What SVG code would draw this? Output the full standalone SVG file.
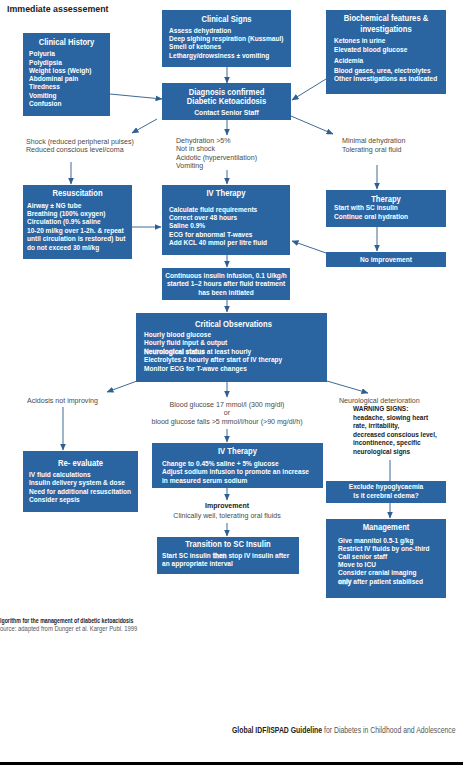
<svg xmlns="http://www.w3.org/2000/svg" width="463" height="765" viewBox="0 0 463 765">
<style>
  .box { fill: #2a65a2; }
  text { font-family: "Liberation Sans", Arial, sans-serif; }
  .t { fill: #ffffff; font-size: 8.8px; font-weight: bold; text-anchor: middle; }
  .b { fill: #ffffff; font-size: 7.6px; font-weight: bold; }
  .bc { fill: #ffffff; font-size: 7.6px; font-weight: bold; text-anchor: middle; }
  .g { fill: #4a4a4a; font-size: 7.8px; }
  .gc { fill: #4a4a4a; font-size: 7.8px; text-anchor: middle; }
  .k { fill: #222222; font-size: 7.6px; font-weight: bold; }
  .hv { stroke: #ffffff; stroke-width: 0.35px; }
  .conn line { stroke: #3d6a98; stroke-width: 1; fill: none; }
  .arr { marker-end: url(#ah); }
</style>
<defs>
  <marker id="ah" markerUnits="userSpaceOnUse" markerWidth="7" markerHeight="6" refX="6.5" refY="3" orient="auto">
    <path d="M0,0 L7,3 L0,6 z" fill="#2f5f92"/>
  </marker>
</defs>
<rect x="0" y="0" width="463" height="765" fill="#ffffff"/>
<g transform="translate(7,0) scale(0.93,1)">
  <text x="0" y="12" style="font-size:9.5px;font-weight:bold;fill:#222;">Immediate assessement</text>
</g>

<g id="clinical-history">
  <rect class="box" x="23" y="33" width="87" height="83"/>
  <g transform="translate(66.5,0) scale(0.87,1)"><text class="t" x="0" y="45">Clinical History</text></g>
  <g transform="translate(29,0) scale(0.865,1)">
    <text class="b" x="0" y="56.5">Polyuria</text>
    <text class="b" x="0" y="64.7">Polydipsia</text>
    <text class="b" x="0" y="73">Weight loss (Weigh)</text>
    <text class="b" x="0" y="81.2">Abdominal pain</text>
    <text class="b" x="0" y="89.4">Tiredness</text>
    <text class="b" x="0" y="97.7">Vomiting</text>
    <text class="b" x="0" y="106">Confusion</text>
  </g>
</g>

<g id="clinical-signs">
  <rect class="box" x="162" y="10" width="129" height="57"/>
  <g transform="translate(226.5,0) scale(0.87,1)"><text class="t" x="0" y="22">Clinical Signs</text></g>
  <g transform="translate(169,0) scale(0.865,1)">
    <text class="b" x="0" y="33">Assess dehydration</text>
    <text class="b" x="0" y="41.3">Deep sighing respiration (Kussmaul)</text>
    <text class="b" x="0" y="49.5">Smell of ketones</text>
    <text class="b" x="0" y="58">Lethargy/drowsiness ± vomiting</text>
  </g>
</g>

<g id="biochemical">
  <rect class="box" x="326" y="10" width="120" height="84"/>
  <g transform="translate(386,0) scale(0.87,1)">
    <text class="t" x="0" y="21.5">Biochemical features &amp;</text>
    <text class="t" x="0" y="32">investigations</text>
  </g>
  <g transform="translate(334,0) scale(0.865,1)">
    <text class="b" x="0" y="43.5">Ketones in urine</text>
    <text class="b" x="0" y="52">Elevated blood glucose</text>
    <text class="b" x="0" y="63">Acidemia</text>
    <text class="b" x="0" y="73">Blood gases, urea, electrolytes</text>
    <text class="b" x="0" y="81.5">Other investigations as indicated</text>
  </g>
</g>

<g id="diagnosis">
  <rect class="box" x="162" y="83" width="129" height="37"/>
  <g transform="translate(226.5,0) scale(0.87,1)">
    <text class="t" x="0" y="95">Diagnosis confirmed</text>
    <text class="t" x="0" y="104">Diabetic Ketoacidosis</text>
  </g>
  <g transform="translate(226.5,0) scale(0.84,1)">
    <text class="bc" x="0" y="115" style="font-size:8px">Contact Senior Staff</text>
  </g>
</g>

<g id="shock-label" transform="translate(26,0) scale(0.91,1)">
  <text class="g" x="0" y="144">Shock (reduced peripheral pulses)</text>
  <text class="g" x="0" y="152.5">Reduced conscious level/coma</text>
</g>

<g id="dehydration-label" transform="translate(176,0) scale(0.91,1)">
  <text class="g" x="0" y="143">Dehydration &gt;5%</text>
  <text class="g" x="0" y="151.5">Not in shock</text>
  <text class="g" x="0" y="160">Acidotic (hyperventilation)</text>
  <text class="g" x="0" y="168.5">Vomiting</text>
</g>

<g id="minimal-label" transform="translate(342,0) scale(0.91,1)">
  <text class="g" x="0" y="143">Minimal dehydration</text>
  <text class="g" x="0" y="152">Tolerating oral fluid</text>
</g>

<g id="resuscitation">
  <rect class="box" x="23" y="185" width="109" height="74"/>
  <g transform="translate(77.5,0) scale(0.87,1)"><text class="t" x="0" y="196">Resuscitation</text></g>
  <g transform="translate(27,0) scale(0.865,1)">
    <text class="b" x="0" y="208">Airway ± NG tube</text>
    <text class="b" x="0" y="216.5">Breathing (100% oxygen)</text>
    <text class="b" x="0" y="224.5">Circulation (0.9% saline</text>
    <text class="b" x="0" y="233">10-20 ml/kg over 1-2h. &amp; repeat</text>
    <text class="b" x="0" y="241.5">until circulation is restored) but</text>
    <text class="b" x="0" y="250">do not exceed 30 ml/kg</text>
  </g>
</g>

<g id="iv-therapy">
  <rect class="box" x="162" y="185" width="128" height="70"/>
  <g transform="translate(226,0) scale(0.87,1)"><text class="t" x="0" y="196">IV Therapy</text></g>
  <g transform="translate(169,0) scale(0.865,1)">
    <text class="b" x="0" y="212">Calculate fluid requirements</text>
    <text class="b" x="0" y="220.5">Correct over 48 hours</text>
    <text class="b" x="0" y="228.5">Saline 0.9%</text>
    <text class="b" x="0" y="237">ECG for abnormal T-waves</text>
    <text class="b" x="0" y="245.5">Add KCL 40 mmol per litre fluid</text>
  </g>
</g>

<g id="therapy">
  <rect class="box" x="326" y="190" width="120" height="37"/>
  <g transform="translate(386,0) scale(0.87,1)"><text class="t" x="0" y="202">Therapy</text></g>
  <g transform="translate(334,0) scale(0.865,1)">
    <text class="b" x="0" y="210.5">Start with SC insulin</text>
    <text class="b" x="0" y="218.8">Continue oral hydration</text>
  </g>
</g>

<g id="no-improvement">
  <rect class="box" x="326" y="252" width="120" height="15"/>
  <g transform="translate(386,0) scale(0.865,1)"><text class="bc" x="0" y="261.8">No improvement</text></g>
</g>

<g id="insulin">
  <rect class="box" x="162" y="268" width="128" height="32"/>
  <g transform="translate(226,0) scale(0.865,1)">
    <text class="bc" x="0" y="278">Continuous insulin infusion, 0.1 U/kg/h</text>
    <text class="bc" x="0" y="286.3">started 1–2 hours after fluid treatment</text>
    <text class="bc" x="0" y="294.6">has been initiated</text>
  </g>
</g>

<g id="critical-observations">
  <rect class="box" x="136" y="313" width="191" height="69"/>
  <g transform="translate(233.5,0) scale(0.87,1)"><text class="t" x="0" y="327">Critical Observations</text></g>
  <g transform="translate(144,0) scale(0.865,1)">
    <text class="b" x="0" y="337">Hourly blood glucose</text>
    <text class="b" x="0" y="345.5">Hourly fluid input &amp; output</text>
    <text class="b" x="0" y="354"><tspan class="hv">Neurological status</tspan> at least hourly</text>
    <text class="b" x="0" y="362.5">Electrolytes 2 hourly after start of IV therapy</text>
    <text class="b" x="0" y="371">Monitor ECG for T-wave changes</text>
  </g>
</g>

<g id="acidosis-label" transform="translate(27,0) scale(0.91,1)">
  <text class="g" x="0" y="403">Acidosis not improving</text>
</g>

<g id="glucose-label" transform="translate(227,0) scale(0.91,1)">
  <text class="gc" x="0" y="407">Blood glucose 17 mmol/l (300 mg/dl)</text>
  <text class="gc" x="0" y="415.5">or</text>
  <text class="gc" x="0" y="424">blood glucose falls &gt;5 mmol/l/hour (&gt;90 mg/dl/h)</text>
</g>

<g id="neuro-label">
  <g transform="translate(339,0) scale(0.91,1)">
    <text class="g" x="0" y="403">Neurological deterioration</text>
  </g>
  <g transform="translate(353,0) scale(0.853,1)">
    <text class="k" x="0" y="411.5">WARNING SIGNS:</text>
    <text class="k" x="0" y="420">headache, slowing heart</text>
    <text class="k" x="0" y="428.5">rate, irritability,</text>
    <text class="k" x="0" y="437">decreased conscious level,</text>
    <text class="k" x="0" y="445.5">incontinence, specific</text>
    <text class="k" x="0" y="454">neurological signs</text>
  </g>
</g>

<g id="re-evaluate">
  <rect class="box" x="23" y="451" width="115" height="61"/>
  <g transform="translate(80.5,0) scale(0.87,1)"><text class="t" x="0" y="466">Re- evaluate</text></g>
  <g transform="translate(29,0) scale(0.865,1)">
    <text class="b" x="0" y="477">IV fluid calculations</text>
    <text class="b" x="0" y="485.5">Insulin delivery system &amp; dose</text>
    <text class="b" x="0" y="494">Need for additional resuscitation</text>
    <text class="b" x="0" y="502.5">Consider sepsis</text>
  </g>
</g>

<g id="iv-therapy-2">
  <rect class="box" x="152" y="443" width="171" height="45"/>
  <g transform="translate(237.5,0) scale(0.87,1)"><text class="t" x="0" y="454">IV Therapy</text></g>
  <g transform="translate(162,0) scale(0.865,1)">
    <text class="b" x="0" y="466">Change to 0.45% saline + 5% glucose</text>
    <text class="b" x="0" y="474.5">Adjust sodium infusion to promote an increase</text>
    <text class="b" x="0" y="483">in measured serum sodium</text>
  </g>
</g>

<g id="improvement-label">
  <g transform="translate(227,0) scale(0.88,1)">
    <text x="0" y="508" style="font-size:8px;font-weight:bold;fill:#222;text-anchor:middle;">Improvement</text>
  </g>
  <g transform="translate(227,0) scale(0.91,1)">
    <text class="gc" x="0" y="518">Clinically well, tolerating oral fluids</text>
  </g>
</g>

<g id="transition">
  <rect class="box" x="157" y="537" width="142" height="37"/>
  <g transform="translate(228,0) scale(0.87,1)"><text class="t" x="0" y="547">Transition to SC Insulin</text></g>
  <g transform="translate(162,0) scale(0.865,1)">
    <text class="b" x="0" y="558">Start SC insulin <tspan class="hv">then</tspan> stop IV insulin after</text>
    <text class="b" x="0" y="566.5">an appropriate interval</text>
  </g>
</g>

<g id="exclude">
  <rect class="box" x="326" y="481" width="120" height="22"/>
  <g transform="translate(386,0) scale(0.865,1)">
    <text class="bc" x="0" y="489.5">Exclude hypoglycaemia</text>
    <text class="bc" x="0" y="498">Is it cerebral edema?</text>
  </g>
</g>

<g id="management">
  <rect class="box" x="326" y="519" width="120" height="79"/>
  <g transform="translate(386,0) scale(0.87,1)"><text class="t" x="0" y="530">Management</text></g>
  <g transform="translate(338,0) scale(0.865,1)">
    <text class="b" x="0" y="543">Give mannitol 0.5-1 g/kg</text>
    <text class="b" x="0" y="551">Restrict IV fluids by one-third</text>
    <text class="b" x="0" y="559">Call senior staff</text>
    <text class="b" x="0" y="567">Move to ICU</text>
    <text class="b" x="0" y="575.5">Consider cranial imaging</text>
    <text class="b" x="0" y="584"><tspan class="hv">only</tspan> after patient stabilised</text>
  </g>
</g>

<g id="caption" transform="translate(0,0) scale(0.82,1)">
  <text x="0" y="623" style="font-size:6.4px;font-weight:bold;fill:#222;">lgorithm for the management of diabetic ketoacidosis</text>
  <text x="0" y="631.5" style="font-size:7.2px;fill:#555;">ource: adapted from Dunger et al. Karger Publ. 1999</text>
</g>

<g id="footer" transform="translate(232,0) scale(0.84,1)">
  <text x="0" y="733" style="font-size:8.2px;fill:#555;"><tspan style="font-weight:bold;fill:#222;">Global IDF/ISPAD Guideline</tspan> for Diabetes in Childhood and Adolescence</text>
</g>

<rect x="0" y="762" width="463" height="3" fill="#000000"/>

<g id="connectors" class="conn">
  <line class="arr" x1="227" y1="67" x2="227" y2="83"/>
  <line class="arr" x1="110" y1="94" x2="162" y2="99"/>
  <line class="arr" x1="326" y1="79" x2="292" y2="100"/>
  <line class="arr" x1="157" y1="119" x2="132" y2="133"/>
  <line class="arr" x1="227" y1="120" x2="227" y2="135"/>
  <line class="arr" x1="291" y1="116" x2="333" y2="134"/>
  <line class="arr" x1="71" y1="162" x2="71" y2="184"/>
  <line class="arr" x1="227" y1="170" x2="227" y2="184"/>
  <line class="arr" x1="132" y1="227" x2="161" y2="227"/>
  <line class="arr" x1="377" y1="165" x2="377" y2="189"/>
  <line class="arr" x1="377" y1="227" x2="377" y2="251"/>
  <line class="arr" x1="326" y1="253" x2="292" y2="241"/>
  <line class="arr" x1="227" y1="255" x2="227" y2="267"/>
  <line class="arr" x1="227" y1="300" x2="227" y2="312"/>
  <line class="arr" x1="137" y1="381" x2="107" y2="392"/>
  <line class="arr" x1="63" y1="407" x2="63" y2="450"/>
  <line class="arr" x1="227" y1="382" x2="227" y2="397"/>
  <line class="arr" x1="227" y1="429" x2="227" y2="442"/>
  <line class="arr" x1="227" y1="488" x2="227" y2="500"/>
  <line class="arr" x1="227" y1="523" x2="227" y2="536"/>
  <line class="arr" x1="327" y1="381" x2="368" y2="393"/>
  <line x1="390" y1="460" x2="390" y2="481"/>
  <line class="arr" x1="390" y1="503" x2="390" y2="518"/>
</g>
</svg>
